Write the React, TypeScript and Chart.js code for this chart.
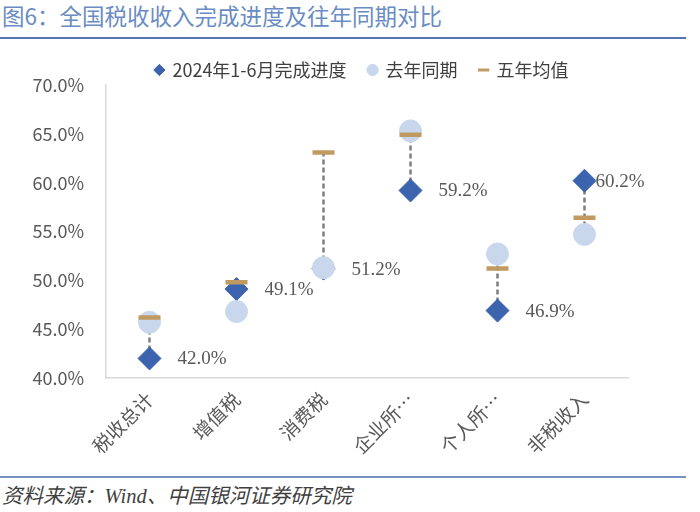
import React, { useEffect, useRef } from "react";
import { Chart, registerables } from "chart.js";

Chart.register(...registerables);

const categories = ["税收总计", "增值税", "消费税", "企业所…", "个人所…", "非税收入"];
const progress2024 = [42.0, 49.1, 51.2, 59.2, 46.9, 60.2];
const lastYear = [45.7, 46.8, 51.3, 65.3, 52.7, 54.7];
const fiveYearAvg = [46.2, 49.8, 63.1, 64.9, 51.2, 56.4];
const seriesNames = ["2024年1-6月完成进度", "去年同期", "五年均值"];
const yMin = 40;
const yMax = 70;
const yStep = 5;

const CJK = "'Noto Sans CJK SC', 'Noto Sans', sans-serif";

const connectorPlugin = {
  id: "connectors",
  beforeDatasetsDraw(chart: any) {
    const { ctx, scales } = chart;
    const x = scales.x;
    const y = scales.y;
    ctx.save();
    ctx.strokeStyle = "#7f7f7f";
    ctx.lineWidth = 2.5;
    ctx.setLineDash([5, 3]);
    categories.forEach((_, i) => {
      const vals = [progress2024[i], lastYear[i], fiveYearAvg[i]];
      const px = x.getPixelForValue(i);
      ctx.beginPath();
      ctx.moveTo(px, y.getPixelForValue(Math.min(...vals)));
      ctx.lineTo(px, y.getPixelForValue(Math.max(...vals)));
      ctx.stroke();
    });
    ctx.restore();
  },
};

const labelDx = [28, 28, 28, 28, 28, 11];

const valueLabelPlugin = {
  id: "valueLabels",
  afterDatasetsDraw(chart: any) {
    const { ctx } = chart;
    const meta = chart.getDatasetMeta(0);
    ctx.save();
    ctx.fillStyle = "#595959";
    ctx.font = "19px 'Liberation Serif', 'DejaVu Serif', serif";
    ctx.textAlign = "left";
    ctx.textBaseline = "middle";
    meta.data.forEach((pt: any, i: number) => {
      ctx.fillText(progress2024[i].toFixed(1) + "%", pt.x + labelDx[i], pt.y + 1);
    });
    ctx.restore();
  },
};

const legendFitPlugin = {
  id: "legendFit",
  afterInit(chart: any) {
    const lg = chart.legend;
    if (lg) {
      const orig = lg.fit.bind(lg);
      lg.fit = () => {
        orig();
        lg.height = 40;
      };
    }
  },
  afterLayout(chart: any) {
    const lg = chart.legend;
    if (lg) {
      const dx = 48;
      const dy = -6;
      lg.left += dx;
      lg.right += dx;
      lg.top += dy;
      lg.bottom += dy;
    }
  },
};

export default function App() {
  const canvasRef = useRef<HTMLCanvasElement | null>(null);

  useEffect(() => {
    if (!canvasRef.current) return;
    Chart.defaults.font.family = CJK;
    const chart = new Chart(canvasRef.current, {
      type: "line",
      data: {
        labels: categories,
        datasets: [
          {
            label: seriesNames[0],
            data: progress2024,
            showLine: false,
            pointStyle: "rectRot",
            pointRadius: 11.5,
            pointHoverRadius: 11.5,
            pointBackgroundColor: "#3b63ae",
            pointBorderColor: "#3b63ae",
            pointBorderWidth: 1,
            backgroundColor: "#3b63ae",
            borderColor: "#3b63ae",
            order: 3,
          },
          {
            label: seriesNames[1],
            data: lastYear,
            showLine: false,
            pointStyle: "circle",
            pointRadius: 11,
            pointHoverRadius: 11,
            pointBackgroundColor: "#c9d7ed",
            pointBorderColor: "#c9d7ed",
            pointBorderWidth: 1,
            backgroundColor: "#c9d7ed",
            borderColor: "#c9d7ed",
            order: 2,
          },
          {
            label: seriesNames[2],
            data: fiveYearAvg,
            showLine: false,
            pointStyle: "line",
            pointRadius: 11,
            pointHoverRadius: 11,
            pointBackgroundColor: "#c19a62",
            pointBorderColor: "#c19a62",
            pointBorderWidth: 4.5,
            backgroundColor: "#c19a62",
            borderColor: "#c19a62",
            order: 1,
          },
        ],
      },
      options: {
        animation: false,
        responsive: false,
        maintainAspectRatio: false,
        layout: { padding: { left: 0, right: 72, top: 0, bottom: 0 } },
        plugins: {
          tooltip: { enabled: false },
          legend: {
            position: "top",
            labels: {
              usePointStyle: true,
              boxWidth: 8,
              boxHeight: 8,
              padding: 22,
              color: "#404040",
              font: { size: 18, family: CJK },
              sort: (a: any, b: any) => a.datasetIndex - b.datasetIndex,
              generateLabels: (chart: any) => {
                const items = (Chart.defaults.plugins.legend.labels as any).generateLabels(chart);
                items.forEach((it: any) => {
                  if (it.pointStyle === "line") it.lineWidth = 3;
                });
                return items;
              },
            },
          },
        },
        scales: {
          x: {
            type: "category",
            offset: true,
            grid: { display: false, drawTicks: false },
            border: { display: true, color: "#d9d9d9", width: 1.5 },
            ticks: {
              color: "#595959",
              font: { size: 19, family: CJK },
              minRotation: 45,
              maxRotation: 45,
              autoSkip: false,
              padding: 10,
            },
            afterFit: (scale: any) => {
              scale.height = 92;
            },
          },
          y: {
            min: yMin,
            max: yMax,
            grid: { display: false, drawTicks: false },
            border: { display: true, color: "#d9d9d9", width: 1.5 },
            ticks: {
              stepSize: yStep,
              color: "#595959",
              font: { size: 18, family: CJK },
              padding: 22,
              callback: (v: any) => Number(v).toFixed(1) + "%",
            },
            afterFit: (scale: any) => {
              scale.width = 106;
            },
          },
        },
      },
      plugins: [connectorPlugin, valueLabelPlugin, legendFitPlugin],
    } as any);
    return () => chart.destroy();
  }, []);

  return (
    <div
      style={{
        position: "fixed",
        left: 0,
        top: 0,
        width: 700,
        height: 512,
        background: "#ffffff",
        overflow: "hidden",
      }}
    >
      <div
        style={{
          position: "absolute",
          left: 2,
          top: 1,
          fontFamily: CJK,
          fontSize: 22.5,
          lineHeight: "28px",
          color: "#6a8cc3",
          whiteSpace: "nowrap",
        }}
      >
        图6：全国税收收入完成进度及往年同期对比
      </div>
      <div
        style={{
          position: "absolute",
          left: 0,
          top: 37,
          width: 686,
          height: 2,
          background: "#5576b5",
        }}
      />
      <div style={{ position: "absolute", left: 0, top: 45, width: 700, height: 425 }}>
        <canvas ref={canvasRef} width={700} height={425} style={{ display: "block" }} />
      </div>
      <div
        style={{
          position: "absolute",
          left: 0,
          top: 476,
          width: 686,
          height: 2,
          background: "#7690c6",
        }}
      />
      <div
        style={{
          position: "absolute",
          left: 2,
          top: 483,
          fontFamily: "'Liberation Serif', 'Noto Sans CJK SC', serif",
          fontStyle: "italic",
          fontSize: 20.5,
          lineHeight: "26px",
          color: "#404040",
          whiteSpace: "nowrap",
        }}
      >
        资料来源：Wind、中国银河证券研究院
      </div>
    </div>
  );
}
